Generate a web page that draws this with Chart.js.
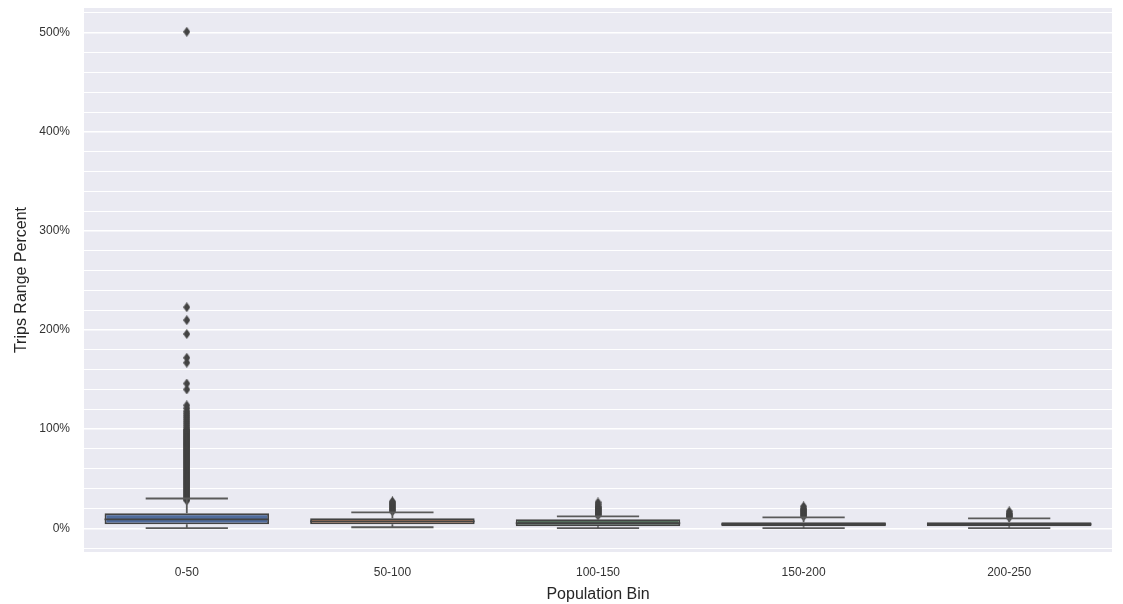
<!DOCTYPE html>
<html>
<head>
<meta charset="utf-8">
<script src="https://cdn.jsdelivr.net/npm/chart.js@4/dist/chart.umd.min.js"></script>
<style>
  html, body { margin: 0; padding: 0; background: #fff; }
  #wrap { width: 1123px; height: 604px; }
</style>
</head>
<body>
<div id="wrap"><canvas id="boxChart" width="1123" height="604"></canvas></div>
<script>
// population bins on the x axis
var bins = ["0-50", "50-100", "100-150", "150-200", "200-250"];

// box stats per bin, in percent
var q1 = [4, 4, 2, 2, 2];
var q3 = [15, 10, 9, 6, 6];
var medians = [9, 7, 5, 4, 4];
var whiskerLow = [0, 1, 0, 0, 0];
var whiskerHigh = [30, 16, 12, 11, 10];

// fliers per bin (percent)
var fliers0 = [28, 29, 30, 31, 32, 33, 34, 35, 36, 37, 38, 39, 40, 41, 42, 43, 44, 45, 46, 47, 48, 49,
  50, 51, 52, 53, 54, 55, 56, 57, 58, 59, 60, 61, 62, 63, 64, 65, 66, 67, 68, 69, 70, 71, 72, 73, 74,
  75, 76, 77, 78, 79, 80, 81, 82, 83, 84, 85, 86, 87, 88, 89, 90, 91, 92, 93, 94, 95, 96, 97, 98, 99,
  100, 102, 104, 106, 108, 110, 112, 114, 116, 118, 121, 124,
  140, 146, 167, 172, 196, 210, 223, 501];
var fliers1 = [17, 18, 19, 20, 21, 22, 23, 24, 25, 26, 27];
var fliers2 = [13, 14, 15, 16, 17, 18, 19, 20, 21, 22, 24, 26];
var fliers3 = [12, 13, 14, 15, 16, 17, 18, 19, 20, 22];
var fliers4 = [11, 12, 13, 14, 15, 17];

var boxColors = ["#4f6b9c", "#c2825e", "#556f5c", "#5e5556", "#58575e"];
var lineGray = "#434343";

var gridValues = [-20, 0, 20, 40, 60, 80, 100, 120, 140, 160, 180, 200, 220, 240, 260, 280, 300,
  320, 340, 360, 380, 400, 420, 440, 460, 480, 500, 520];

var allFliers = [fliers0, fliers1, fliers2, fliers3, fliers4];
var flierPoints = [];
allFliers.forEach(function (list, i) {
  list.forEach(function (v) {
    flierPoints.push({ x: bins[i], y: v });
  });
});

var boxRanges = bins.map(function (b, i) { return [q1[i], q3[i]]; });

// thin diamond marker, like matplotlib's "d"
var diamond = document.createElement("canvas");
diamond.width = 7;
diamond.height = 10;
(function () {
  var c = diamond.getContext("2d");
  c.fillStyle = lineGray;
  c.beginPath();
  c.moveTo(3.5, 0);
  c.lineTo(7, 5);
  c.lineTo(3.5, 10);
  c.lineTo(0, 5);
  c.closePath();
  c.fill();
})();

// grey plot background like seaborn darkgrid
var plotBackground = {
  id: "plotBackground",
  beforeDraw: function (chart) {
    var ctx = chart.ctx, a = chart.chartArea;
    ctx.save();
    ctx.fillStyle = "#eaeaf2";
    ctx.fillRect(a.left, a.top, a.right - a.left, a.bottom - a.top);
    ctx.restore();
  }
};

// whiskers, caps and medians, placed with the chart's scales
var whiskers = {
  id: "whiskers",
  afterDatasetsDraw: function (chart) {
    var ctx = chart.ctx;
    var xs = chart.scales.x, ys = chart.scales.y;
    var boxMeta = chart.getDatasetMeta(0);
    ctx.save();
    ctx.lineWidth = 1.8;
    bins.forEach(function (b, i) {
      var cx = xs.getPixelForValue(i);
      var bar = boxMeta.data[i];
      var half = bar.width / 2;
      var capHalf = half / 2;
      var yLo = ys.getPixelForValue(whiskerLow[i]);
      var yHi = ys.getPixelForValue(whiskerHigh[i]);
      var yQ1 = ys.getPixelForValue(q1[i]);
      var yQ3 = ys.getPixelForValue(q3[i]);
      var yMed = ys.getPixelForValue(medians[i]);
      ctx.strokeStyle = "#5a5a5a";
      ctx.beginPath();
      ctx.moveTo(cx, yQ3); ctx.lineTo(cx, yHi);
      ctx.moveTo(cx, yQ1); ctx.lineTo(cx, yLo);
      ctx.moveTo(cx - capHalf, yHi); ctx.lineTo(cx + capHalf, yHi);
      ctx.moveTo(cx - capHalf, yLo); ctx.lineTo(cx + capHalf, yLo);
      ctx.stroke();
      ctx.strokeStyle = lineGray;
      ctx.beginPath();
      ctx.moveTo(cx - half, yMed); ctx.lineTo(cx + half, yMed);
      ctx.stroke();
    });
    ctx.restore();
  }
};

var ctx = document.querySelector("#boxChart").getContext("2d");

var boxChart = new Chart(ctx, {
  data: {
    labels: bins,
    datasets: [{
      type: "bar",
      label: "box",
      data: boxRanges,
      backgroundColor: boxColors,
      borderColor: lineGray,
      borderWidth: 1.8,
      borderSkipped: false,
      barPercentage: 0.8,
      categoryPercentage: 1.0,
      order: 2
    }, {
      type: "line",
      label: "fliers",
      data: flierPoints,
      showLine: false,
      pointStyle: diamond,
      pointRadius: 4,
      order: 1
    }]
  },
  options: {
    responsive: false,
    animation: false,
    layout: { padding: { top: 8, right: 11, left: 0, bottom: 0 } },
    plugins: {
      legend: { display: false },
      tooltip: { enabled: false }
    },
    scales: {
      x: {
        type: "category",
        offset: true,
        grid: { display: false, drawTicks: false },
        border: { display: false },
        ticks: {
          color: "#333",
          font: { family: "Liberation Sans", size: 12 },
          padding: 13
        },
        title: {
          display: true,
          text: "Population Bin",
          color: "#262626",
          font: { family: "Liberation Sans", size: 16 },
          padding: { top: 0, bottom: 0 }
        },
        afterFit: function (scale) { scale.height = 52; scale.paddingLeft = 0; scale.paddingRight = 0; }
      },
      y: {
        min: -24,
        max: 525,
        afterBuildTicks: function (scale) {
          scale.ticks = gridValues.map(function (v) { return { value: v }; });
        },
        grid: {
          color: "#ffffff",
          lineWidth: function (c) { return c.tick && c.tick.value % 100 === 0 ? 1.4 : 1; },
          drawTicks: false
        },
        border: { display: false },
        ticks: {
          color: "#333",
          font: { family: "Liberation Sans", size: 12 },
          padding: 14,
          autoSkip: false,
          callback: function (v) { return v >= 0 && v % 100 === 0 ? v + "%" : ""; }
        },
        title: {
          display: true,
          text: "Trips Range Percent",
          color: "#262626",
          font: { family: "Liberation Sans", size: 16 },
          padding: { top: 12, bottom: 8 }
        },
        afterFit: function (scale) { scale.width = 84; scale.paddingTop = 0; scale.paddingBottom = 0; }
      }
    }
  },
  plugins: [plotBackground, whiskers]
});
</script>
</body>
</html>
